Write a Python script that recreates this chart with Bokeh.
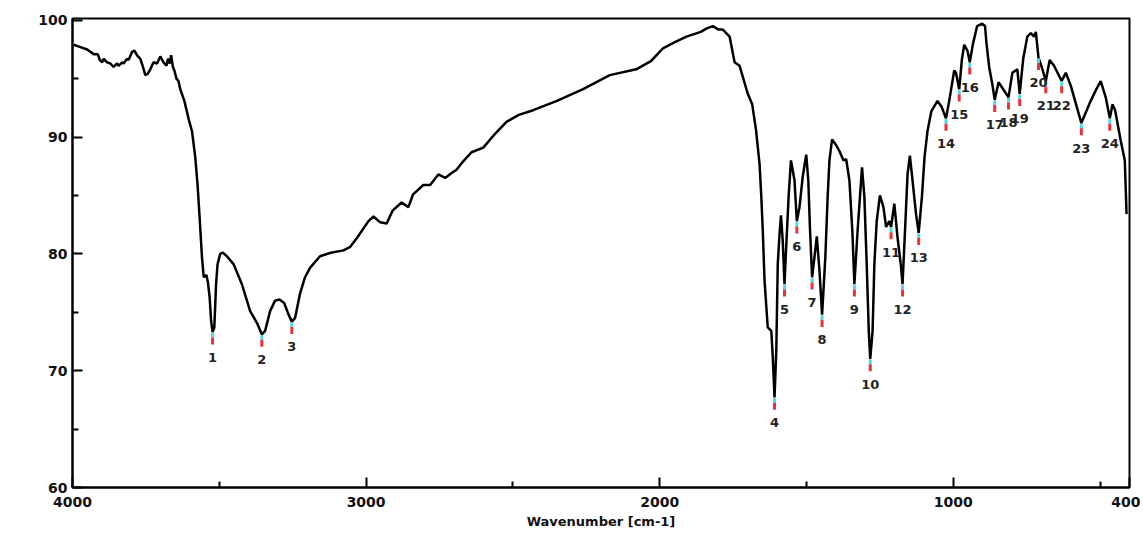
from bokeh.plotting import figure
from bokeh.models import Range1d, FixedTicker, Label
from bokeh.core.properties import value
from bokeh.embed import file_html
from bokeh.resources import INLINE

# ---- data ----
wavenumber = [3996, 3973, 3950, 3928, 3914, 3907, 3899, 3894, 3882, 3871, 3860, 3848, 3843, 3831, 3826,
              3814, 3809, 3797, 3789, 3780, 3769, 3760, 3752, 3744, 3735, 3724, 3712, 3701, 3690, 3680,
              3675, 3669, 3664, 3658, 3653, 3646, 3639, 3633, 3619, 3605, 3593, 3582, 3574, 3567, 3559,
              3553, 3544, 3539, 3533, 3528, 3523, 3517, 3511, 3506, 3497, 3488, 3474, 3451, 3423, 3395,
              3372, 3355, 3344, 3327, 3310, 3295, 3279, 3264, 3253, 3242, 3225, 3208, 3191, 3157, 3120,
              3077, 3054, 3030, 2992, 2975, 2952, 2930, 2910, 2879, 2856, 2840, 2805, 2782, 2754, 2731,
              2710, 2692, 2670, 2641, 2601, 2560, 2522, 2480, 2431, 2350, 2261, 2170, 2080, 2030, 1989,
              1950, 1909, 1860, 1840, 1819, 1800, 1785, 1762, 1745, 1728, 1700, 1685, 1672, 1660, 1654,
              1649, 1643, 1632, 1620, 1615, 1609, 1603, 1598, 1592, 1587, 1581, 1575, 1570, 1561, 1553,
              1541, 1533, 1524, 1513, 1501, 1494, 1488, 1481, 1473, 1465, 1456, 1447, 1436, 1428, 1422,
              1413, 1399, 1388, 1374, 1365, 1354, 1344, 1337, 1326, 1318, 1311, 1303, 1295, 1288, 1283,
              1275, 1269, 1261, 1250, 1238, 1229, 1218, 1212, 1201, 1190, 1179, 1173, 1162, 1156, 1148,
              1139, 1127, 1118, 1107, 1098, 1088, 1075, 1054, 1040, 1025, 1014, 997, 991, 980, 971,
              963, 952, 944, 933, 919, 902, 892, 887, 878, 867, 859, 846, 833, 812, 799,
              782, 774, 762, 748, 736, 725, 719, 710, 699, 685, 672, 657, 631, 617, 600,
              564, 532, 515, 498, 481, 467, 458, 449, 430, 416, 410]
transmittance = [97.9, 97.7, 97.5, 97.1, 97.1, 96.6, 96.4, 96.7, 96.4, 96.3, 96.0, 96.3, 96.1, 96.4, 96.3,
                 96.7, 96.6, 97.3, 97.4, 97.0, 96.7, 96.0, 95.3, 95.4, 95.8, 96.4, 96.3, 96.9, 96.4, 96.1,
                 96.7, 96.3, 97.0, 96.0, 95.7, 95.0, 94.8, 94.1, 93.1, 91.6, 90.5, 88.3, 85.9, 83.1, 79.7,
                 78.0, 78.2, 77.6, 76.3, 74.3, 73.3, 73.7, 77.4, 79.1, 80.0, 80.1, 79.8, 79.1, 77.4, 75.1,
                 74.1, 73.1, 73.4, 75.1, 76.0, 76.1, 75.8, 74.8, 74.2, 74.5, 76.6, 78.0, 78.8, 79.8, 80.1,
                 80.3, 80.6, 81.4, 82.8, 83.2, 82.7, 82.6, 83.7, 84.4, 84.0, 85.1, 85.9, 85.9, 86.8, 86.5,
                 86.9, 87.2, 87.9, 88.7, 89.1, 90.3, 91.3, 91.9, 92.3, 93.1, 94.1, 95.3, 95.8, 96.5, 97.6,
                 98.1, 98.6, 99.0, 99.3, 99.5, 99.2, 99.2, 98.6, 96.4, 96.1, 93.7, 92.8, 90.6, 87.7, 84.9,
                 82.0, 77.7, 73.7, 73.4, 71.2, 67.7, 71.7, 79.1, 81.7, 83.3, 81.1, 77.4, 80.2, 84.9, 88.0,
                 86.3, 82.8, 84.0, 86.6, 88.5, 86.3, 82.0, 78.0, 79.7, 81.5, 78.6, 74.8, 79.7, 84.9, 88.0,
                 89.8, 89.3, 88.8, 88.0, 88.1, 86.3, 82.0, 77.4, 82.0, 84.9, 87.4, 84.9, 79.1, 73.4, 71.0,
                 73.4, 79.1, 82.8, 85.0, 84.0, 82.3, 82.8, 82.3, 84.3, 81.4, 79.1, 77.4, 83.4, 86.8, 88.4,
                 86.3, 83.4, 81.8, 84.9, 88.3, 90.5, 92.2, 93.1, 92.6, 91.6, 93.1, 95.7, 95.5, 94.1, 96.6,
                 97.9, 97.4, 96.4, 98.0, 99.5, 99.7, 99.5, 98.0, 96.0, 94.5, 93.2, 94.7, 94.2, 93.4, 95.5,
                 95.8, 93.7, 96.7, 98.6, 98.9, 98.6, 99.0, 96.8, 96.0, 94.8, 96.6, 96.1, 94.8, 95.5, 94.4,
                 91.2, 93.1, 94.0, 94.8, 93.4, 91.6, 92.8, 92.3, 89.7, 88.0, 83.4]

peak_numbers = [str(i) for i in range(1, 25)]
peak_wavenumber = [3523, 3355, 3253, 1609, 1575, 1533, 1481, 1447, 1337, 1283, 1212, 1173,
                   1118, 1025, 980, 944, 859, 812, 774, 710, 685, 631, 564, 467]
peak_transmittance = [73.3, 73.1, 74.2, 67.7, 77.4, 82.8, 78.0, 74.8, 77.4, 71.0, 82.3, 77.4,
                      81.8, 91.6, 94.1, 96.4, 93.2, 93.4, 93.7, 96.8, 94.8, 94.8, 91.2, 91.6]

x_major_ticks = [4000, 3000, 2000, 1000, 400]
x_minor_ticks = [3500, 2500, 1500, 500]
y_major_ticks = [60, 70, 80, 90, 100]
y_minor_ticks = [65, 75, 85, 95]

FONT = "DejaVu Sans"

p = figure(frame_width=1057, frame_height=469, output_backend="svg", toolbar_location=None,
           x_range=Range1d(4000, 400), y_range=Range1d(60, 100.15),
           min_border_left=72, min_border_right=11, min_border_top=18, min_border_bottom=45)
p.background_fill_color = "white"
p.border_fill_color = "white"
p.grid.visible = False
p.outline_line_color = "black"
p.outline_line_width = 2

p.xaxis.ticker = FixedTicker(ticks=x_major_ticks, minor_ticks=x_minor_ticks)
p.yaxis.ticker = FixedTicker(ticks=y_major_ticks, minor_ticks=y_minor_ticks)
for ax in (p.xaxis, p.yaxis):
    ax.axis_line_width = 2
    ax.axis_line_color = "black"
    ax.major_tick_line_width = 2
    ax.minor_tick_line_width = 2
    ax.major_tick_in = 10
    ax.major_tick_out = 0
    ax.minor_tick_in = 6
    ax.minor_tick_out = 0
    ax.major_label_text_font = FONT
    ax.major_label_text_font_style = "bold"
    ax.major_label_text_font_size = "14px"
    ax.major_label_text_color = "#111111"
p.xaxis.major_label_standoff = 9
p.yaxis.major_label_standoff = 5

p.xaxis.axis_label = "Wavenumber [cm-1]"
p.xaxis.axis_label_text_font = FONT
p.xaxis.axis_label_text_font_style = "bold"
p.xaxis.axis_label_text_font_size = "13px"
p.xaxis.axis_label_text_color = "#111111"
p.xaxis.axis_label_standoff = 4

p.add_layout(Label(x=4000, y=79.25, x_offset=-50, text="%T", text_font=FONT,
                   text_font_style="bold", text_font_size="12px", text_align="center",
                   text_baseline="middle", text_color="#111111"))

p.line(wavenumber, transmittance, line_color="black", line_width=2.5)

cyan_top = [t - 0.05 for t in peak_transmittance]
cyan_bot = [t - 0.45 for t in peak_transmittance]
red_bot = [t - 1.05 for t in peak_transmittance]
p.segment(x0=peak_wavenumber, y0=cyan_top, x1=peak_wavenumber, y1=cyan_bot,
          line_color="#4fd8e0", line_width=3)
p.segment(x0=peak_wavenumber, y0=cyan_bot, x1=peak_wavenumber, y1=red_bot,
          line_color="#e8323c", line_width=3)
p.text(x=peak_wavenumber, y=peak_transmittance, text=peak_numbers, y_offset=25,
       text_align="center", text_baseline="middle", text_font=value(FONT),
       text_font_style="bold", text_font_size="13px", text_color="#222222")

open("out.html", "w").write(file_html(p, INLINE))
